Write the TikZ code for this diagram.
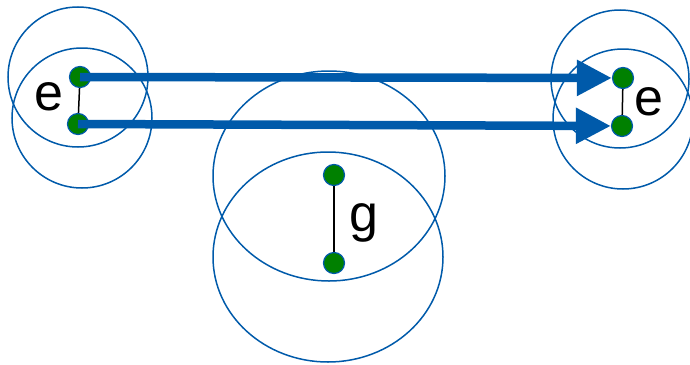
\documentclass[tikz,border=0pt]{standalone}
\usepackage{fontspec}
\setmainfont{Liberation Sans}
\usetikzlibrary{arrows.meta}

\definecolor{ringblue}{RGB}{0,90,170}
\definecolor{dotgreen}{RGB}{0,128,0}

\tikzset{
  dot/.style={circle, fill=dotgreen, draw=ringblue, line width=1.2pt, minimum size=21pt, inner sep=0pt},
  ring/.style={draw=ringblue, line width=1.5pt},
  bond/.style={draw=black, line width=1.5pt},
  transfer/.style={draw=ringblue, line width=8.5pt, -{Triangle[length=35pt 0, width=34pt 0]}},
  lbl/.style={font=\fontsize{52}{54}\selectfont, inner sep=0pt}
}

\begin{document}
\begin{tikzpicture}[x=1pt,y=-1pt]
  \useasboundingbox (0,0) rectangle (690,364);
  % orbitals
  \draw[ring] (78,77) circle (70);
  \draw[ring] (82,118) circle (70);
  \draw[ring] (620,79) circle (69);
  \draw[ring] (623,119) circle (70);
  \draw[ring] (329,176) ellipse [x radius=116, y radius=105];
  \draw[ring] (328,257) ellipse [x radius=115, y radius=105];
  % atoms
  \node[dot] (eLa) at (80,77) {};
  \node[dot] (eLb) at (78,124) {};
  \node[dot] (eRa) at (623,78) {};
  \node[dot] (eRb) at (622,126) {};
  \node[dot] (gA) at (334,175) {};
  \node[dot] (gB) at (334,263) {};
  \draw[bond] (eLa) -- (eLb);
  \draw[bond] (eRa) -- (eRb);
  \draw[bond] (gA) -- (gB);
  % transfer
  \draw[transfer] (eLa.center) -- (eRa);
  \draw[transfer] (eLb.center) -- (eRb);
  % labels
  \node[lbl] (eL) at (49,97) {e};
  \node[lbl] (eR) at (649,102) {e};
  \node[lbl] (g) at (364,223) {g};
\end{tikzpicture}
\end{document}
